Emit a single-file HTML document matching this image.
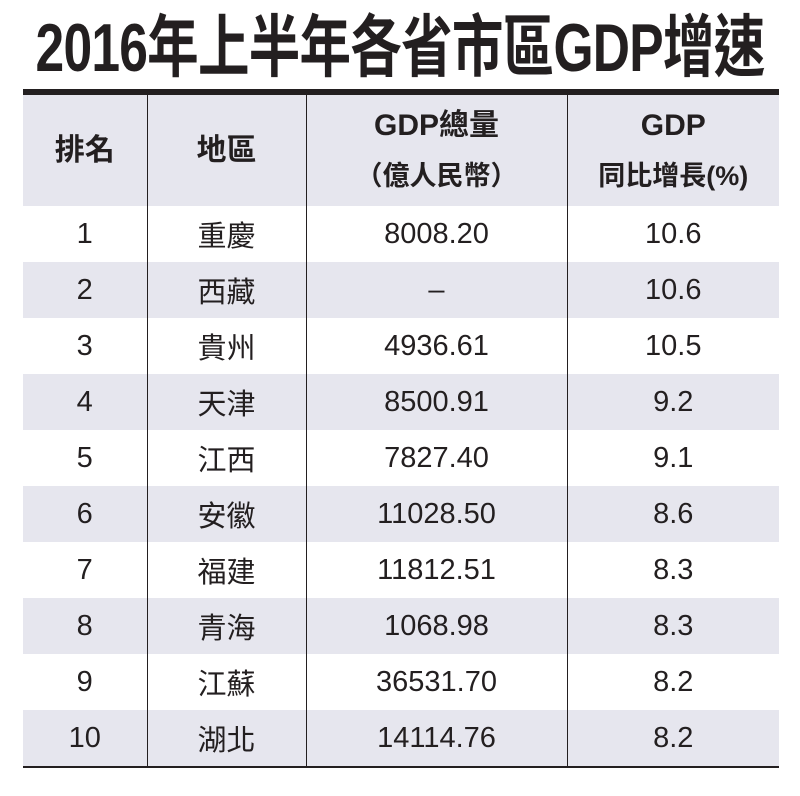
<!DOCTYPE html>
<html><head><meta charset="utf-8"><style>
body{margin:0;width:800px;height:796px;background:#fff;overflow:hidden;font-family:"Liberation Sans","Noto Sans CJK TC",sans-serif;color:#231f20;position:relative}
.title{position:absolute;left:400px;top:8px;white-space:nowrap;font-size:68px;font-weight:bold;line-height:80px;letter-spacing:-1px;transform:translateX(-50%) scaleX(0.758);transform-origin:center}
.tl{position:absolute;left:23px;width:756px;top:89px;height:6px;background:#231f20}
table{position:absolute;left:23px;top:95px;width:756px;border-collapse:collapse}
td{text-align:center;height:56px;padding:0;font-size:29px;border-left:1.5px solid #231f20}
td:first-child{border-left:none}
tr.g td{background:#e6e6ee}
tr.h td{height:111px;font-weight:bold;font-size:30px;line-height:50px}
tr.last td{border-bottom:2px solid #231f20}
</style></head><body>
<div class="title">2016年上半年各省市區GDP增速</div>
<div class="tl"></div>
<table>
<colgroup><col style="width:124px"><col style="width:159px"><col style="width:261px"><col style="width:212px"></colgroup>
<tr class="h g"><td>排名</td><td>地區</td><td>GDP總量<br><span style="font-size:27px">（億人民幣）</span></td><td>GDP<br><span style="font-size:27px">同比增長(%)</span></td></tr>
<tr><td>1</td><td>重慶</td><td>8008.20</td><td>10.6</td></tr>
<tr class="g"><td>2</td><td>西藏</td><td>–</td><td>10.6</td></tr>
<tr><td>3</td><td>貴州</td><td>4936.61</td><td>10.5</td></tr>
<tr class="g"><td>4</td><td>天津</td><td>8500.91</td><td>9.2</td></tr>
<tr><td>5</td><td>江西</td><td>7827.40</td><td>9.1</td></tr>
<tr class="g"><td>6</td><td>安徽</td><td>11028.50</td><td>8.6</td></tr>
<tr><td>7</td><td>福建</td><td>11812.51</td><td>8.3</td></tr>
<tr class="g"><td>8</td><td>青海</td><td>1068.98</td><td>8.3</td></tr>
<tr><td>9</td><td>江蘇</td><td>36531.70</td><td>8.2</td></tr>
<tr class="g last"><td>10</td><td>湖北</td><td>14114.76</td><td>8.2</td></tr>
</table>
</body></html>
